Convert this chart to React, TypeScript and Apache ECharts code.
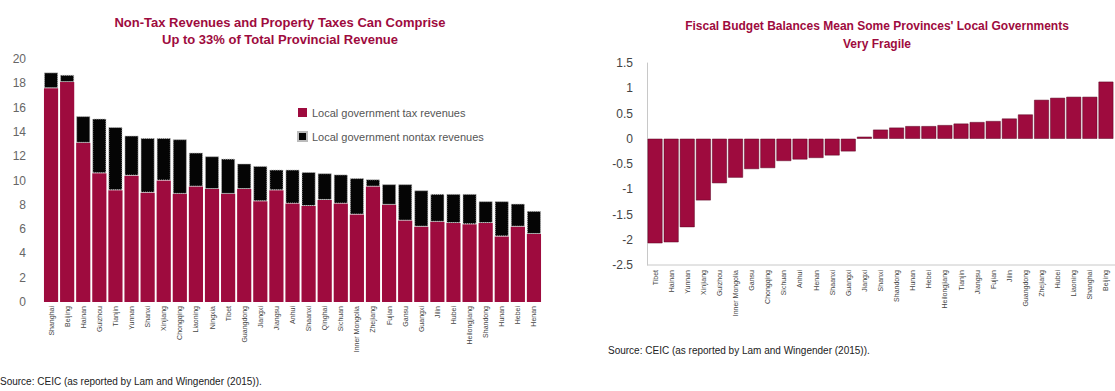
import React, { useEffect, useRef } from "react";
import * as echarts from "echarts";

const revCategories = ["Shanghai","Beijing","Hainan","Guizhou","Tianjin","Yunnan","Shanxi","Xinjiang","Chongqing","Liaoning","Ningxia","Tibet","Guangdong","Jiangxi","Jiangsu","Anhui","Shaanxi","Qinghai","Sichuan","Inner Mongolia","Zhejiang","Fujian","Gansu","Guangxi","Jilin","Hubei","Heilongjiang","Shandong","Hunan","Hebei","Henan"];
const taxRevenues = [17.6,18.1,13.1,10.6,9.2,10.4,9.0,10.0,8.9,9.5,9.3,8.9,9.3,8.3,9.2,8.1,7.9,8.4,8.1,7.2,9.5,8.0,6.7,6.2,6.6,6.5,6.4,6.5,5.4,6.2,5.6];
const totalRevenues = [18.9,18.7,15.3,15.1,14.4,13.7,13.5,13.5,13.4,12.3,12.0,11.8,11.4,11.2,10.9,10.9,10.7,10.6,10.5,10.2,10.1,9.7,9.7,9.2,8.9,8.9,8.9,8.3,8.3,8.1,7.5];
const nontaxRevenues = totalRevenues.map((t, i) => +(t - taxRevenues[i]).toFixed(2));
const revTicks = { min: 0, max: 20, interval: 2 };

const balCategories = ["Tibet","Hainan","Yunnan","Xinjiang","Guizhou","Inner Mongolia","Gansu","Chongqing","Sichuan","Anhui","Henan","Shaanxi","Guangxi","Jiangxi","Shanxi","Shandong","Hunan","Hebei","Heilongjiang","Tianjin","Jiangsu","Fujian","Jilin","Guangdong","Zhejiang","Hubei","Liaoning","Shanghai","Beijing"];
const balValues = [-2.07,-2.05,-1.75,-1.22,-0.88,-0.77,-0.6,-0.58,-0.44,-0.41,-0.38,-0.33,-0.25,0.04,0.18,0.22,0.25,0.25,0.27,0.3,0.33,0.35,0.4,0.48,0.77,0.81,0.83,0.83,1.13];
const balTicks = { min: -2.5, max: 1.5, interval: 0.5 };

const CRIMSON = "#9e0b3e";
const FONT = "'Liberation Sans', Arial, sans-serif";
const SOURCE = "Source: CEIC (as reported by Lam and Wingender (2015)).";

export default function App() {
  const ref = useRef<HTMLDivElement>(null);
  useEffect(() => {
    if (!ref.current) return;
    const chart = echarts.init(ref.current, null, { renderer: "svg" });
    chart.setOption({
      animation: false,
      backgroundColor: "#ffffff",
      textStyle: { fontFamily: FONT },
      title: [
        {
          text: "Non-Tax Revenues and Property Taxes Can Comprise\nUp to 33% of Total Provincial Revenue",
          left: 275, top: 9, textAlign: "center",
          textStyle: { color: CRIMSON, fontSize: 13, fontWeight: "bold", lineHeight: 17, fontFamily: FONT },
        },
        {
          text: "Fiscal Budget Balances Mean Some Provinces' Local Governments\nVery Fragile",
          left: 872, top: 12, textAlign: "center",
          textStyle: { color: CRIMSON, fontSize: 12, fontWeight: "bold", lineHeight: 18, fontFamily: FONT },
        },
      ],
      legend: {
        data: ["Local government tax revenues", "Local government nontax revenues"],
        orient: "vertical", left: 292, top: 102, itemGap: 13,
        itemWidth: 9, itemHeight: 9, icon: "rect",
        textStyle: { color: "#555", fontSize: 11, fontFamily: FONT },
      },
      grid: [
        { left: 43, top: 59, width: 499, height: 243 },
        { left: 647, top: 63, width: 467, height: 202 },
      ],
      xAxis: [
        {
          type: "category", gridIndex: 0, data: revCategories,
          axisLine: { show: false }, axisTick: { show: false },
          axisLabel: { rotate: 90, fontSize: 7, color: "#444", margin: 4, interval: 0 },
        },
        {
          type: "category", gridIndex: 1, data: balCategories, position: "bottom",
          axisLine: { show: false }, axisTick: { show: false },
          axisLabel: { rotate: 90, fontSize: 7, color: "#444", margin: 5, interval: 0 },
        },
      ],
      yAxis: [
        {
          type: "value", gridIndex: 0, ...revTicks,
          splitLine: { show: false }, axisLine: { show: false }, axisTick: { show: false },
          axisLabel: { fontSize: 12, color: "#666", margin: 17 },
        },
        {
          type: "value", gridIndex: 1, ...balTicks,
          splitLine: { show: false },
          axisLine: { show: true, lineStyle: { color: "#c8c8c8" } }, axisTick: { show: false },
          axisLabel: { fontSize: 12, color: "#444", margin: 14 },
        },
      ],
      graphic: [
        { type: "text", left: 0, top: 376, style: { text: SOURCE, fontSize: 10, fill: "#222", fontFamily: FONT } },
        { type: "text", left: 608, top: 345, style: { text: SOURCE, fontSize: 10, fill: "#222", fontFamily: FONT } },
        { type: "line", shape: { x1: 647, y1: 265, x2: 1115, y2: 265 }, style: { stroke: "#c8c8c8", lineWidth: 1 } },
      ],
      series: [
        {
          name: "Local government tax revenues", type: "bar", stack: "rev",
          xAxisIndex: 0, yAxisIndex: 0, data: taxRevenues, barCategoryGap: "12%",
          itemStyle: { color: CRIMSON },
        },
        {
          name: "Local government nontax revenues", type: "bar", stack: "rev",
          xAxisIndex: 0, yAxisIndex: 0, data: nontaxRevenues, barCategoryGap: "12%",
          itemStyle: { color: "#050505", borderColor: "#bbbbbb", borderWidth: 1, borderType: "dotted" },
        },
        {
          name: "Fiscal balance", type: "bar",
          xAxisIndex: 1, yAxisIndex: 1, data: balValues, barCategoryGap: "8%",
          itemStyle: { color: CRIMSON, borderColor: "#5a0020", borderWidth: 0.5 },
        },
      ],
    });
    return () => chart.dispose();
  }, []);
  return <div ref={ref} style={{ position: "fixed", left: 0, top: 0, width: 1115, height: 391 }} />;
}
